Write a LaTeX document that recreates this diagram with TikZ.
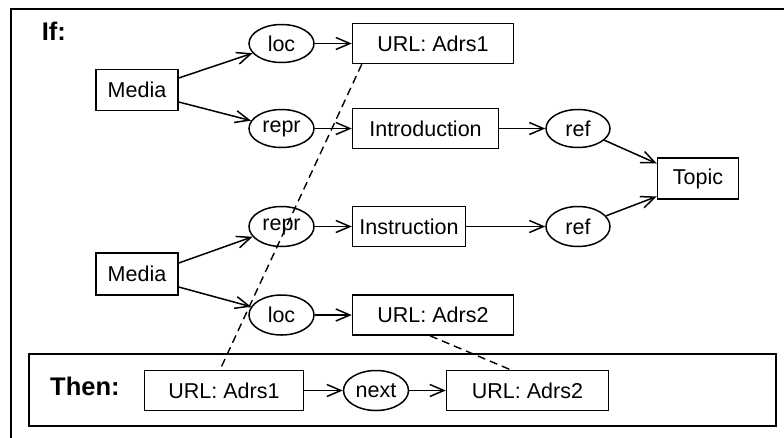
\documentclass[tikz,border=0pt]{standalone}
\usepackage{fontspec}
\setmainfont{Liberation Sans}
\usetikzlibrary{arrows.meta,shapes.geometric}
\begin{document}
\begin{tikzpicture}[x=1pt,y=-1pt,
  every node/.style={font=\fontsize{21.5}{25}\selectfont},
  boxn/.style={draw,line width=1.5pt,rectangle,minimum height=40pt,inner sep=0pt},
  ell/.style={draw,line width=1.5pt,ellipse,minimum width=65pt,minimum height=38pt,inner sep=0pt},
  arr/.style={line width=1.5pt,-{Straight Barb[length=14pt,width=12pt]}},
  dsh/.style={line width=1.4pt,dash pattern=on 8pt off 5pt},
  frame/.style={line width=2pt},
  lbl/.style={font=\fontsize{25.5}{30}\selectfont\bfseries,inner sep=0pt,anchor=base west}]
\useasboundingbox (0,0) rectangle (784,437);
% outer frame (clipped by page)
\draw[frame] (800,9) -- (11,9) -- (11,450);
\node[lbl] (ifl) at (41.7,40.7) {If:};
% nodes
\node[boxn,minimum width=82pt,minimum height=41pt] (m1) at (137,90) {Media};
\node[ell] (l1) at (281.5,43.5) {loc};
\node[boxn,minimum width=161pt] (u1) at (433,43.5) {URL: Adrs1};
\node[ell] (r1) at (281.5,128.5) {repr};
\node[boxn,minimum width=146pt] (in) at (425.5,128.5) {Introduction};
\node[ell,minimum width=64pt] (f1) at (578,128.5) {ref};
\node[boxn,minimum width=81pt,minimum height=41pt] (tp) at (698,178.5) {Topic};
\node[ell,minimum height=40pt] (r2) at (281.5,226.5) {repr};
\node[boxn,minimum width=113pt] (is) at (409,226.5) {Instruction};
\node[ell,minimum width=64pt,minimum height=40pt] (f2) at (578,226.5) {ref};
\node[boxn,minimum width=82pt,minimum height=42pt] (m2) at (137,274) {Media};
\node[ell,minimum height=40pt] (l2) at (281.5,315) {loc};
\node[boxn,minimum width=161pt] (u2) at (433,315) {URL: Adrs2};
% then box
\node[draw,frame,minimum width=747pt,minimum height=72pt,inner sep=0pt] (thenbox) at (402.5,390) {};
\node[lbl] (thenl) at (50,395) {Then:};
\node[boxn,minimum width=159pt] (t1) at (224,390.5) {URL: Adrs1};
\node[ell,minimum height=40pt] (nx) at (376,390.5) {next};
\node[boxn,minimum width=162pt] (t2) at (527.5,390.5) {URL: Adrs2};
% arrows
\draw[arr] ([yshift=12pt]m1.east) -- (l1);
\draw[arr] ([yshift=-12pt]m1.east) -- (r1);
\draw[arr] (l1) -- (u1);
\draw[arr] (r1) -- (in);
\draw[arr] (in) -- (f1);
\draw[arr] (f1) -- ([yshift=15pt]tp.west);
\draw[arr] (f2) -- ([yshift=-18pt]tp.west);
\draw[arr] ([yshift=11pt]m2.east) -- (r2);
\draw[arr] ([yshift=-13pt]m2.east) -- (l2);
\draw[arr] (r2) -- (is);
\draw[arr] (is) -- (f2);
\draw[arr] (l2) -- (u2);
\draw[arr] (t1) -- (nx);
\draw[arr] (nx) -- (t2);
% dashed correspondences
\draw[dsh] ([xshift=10pt]u1.south west) -- ([xshift=-4pt]t1.north);
\draw[dsh] ([xshift=-3pt]u2.south) -- ([xshift=-17pt]t2.north);
\end{tikzpicture}
\end{document}
